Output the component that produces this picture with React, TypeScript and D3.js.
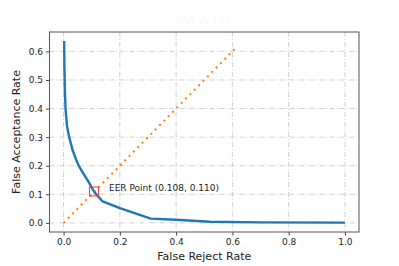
import { useEffect, useRef } from 'react';
import * as d3 from 'd3';

// DET curve samples (false reject rate vs false acceptance rate)
const frr = [0.002, 0.003, 0.005, 0.007, 0.012, 0.02, 0.032, 0.045, 0.056, 0.075, 0.091, 0.108, 0.125, 0.139, 0.2, 0.31, 0.4, 0.52, 0.7, 1.0];
const far = [0.636, 0.55, 0.45, 0.4, 0.34, 0.3, 0.255, 0.22, 0.196, 0.165, 0.14, 0.11, 0.09, 0.075, 0.052, 0.015, 0.011, 0.004, 0.002, 0.001];

// diagonal y = x reference
const diagX = [0, 0.61];
const diagY = [0, 0.61];

const eer = [0.108, 0.110];
const xTicks = [0, 0.2, 0.4, 0.6, 0.8, 1.0];
const yTicks = [0, 0.1, 0.2, 0.3, 0.4, 0.5, 0.6];
const title = 'FAR vs FRR';

const App = () => {
  const svgRef = useRef<SVGSVGElement>(null);

  useEffect(() => {
    const W = 399, H = 266;
    const margin = { top: 32, right: 40, bottom: 34, left: 49.5 };
    const width = W - margin.left - margin.right;
    const height = H - margin.top - margin.bottom;

    const root = d3.select(svgRef.current);
    root.selectAll('*').remove();
    root.attr('width', W).attr('height', H);
    root.append('rect').attr('width', W).attr('height', H).attr('fill', '#fff');

    const svg = root.append('g')
      .attr('transform', 'translate(' + margin.left + ',' + margin.top + ')');

    const x = d3.scaleLinear().domain([-0.05, 1.05]).range([0, width]);
    const y = d3.scaleLinear().domain([-0.0318, 0.6678]).range([height, 0]);

    // grid
    const grid = svg.append('g').attr('stroke', '#c4c4c4').attr('stroke-width', 0.8)
      .attr('stroke-dasharray', '5,2,1,2');
    xTicks.forEach(t => {
      grid.append('line').attr('x1', x(t)).attr('x2', x(t)).attr('y1', 0).attr('y2', height);
    });
    yTicks.forEach(t => {
      grid.append('line').attr('y1', y(t)).attr('y2', y(t)).attr('x1', 0).attr('x2', width);
    });

    const font = 'DejaVu Sans, sans-serif';

    const xAxis = svg.append('g')
      .attr('transform', 'translate(0,' + height + ')')
      .call(d3.axisBottom(x).tickValues(xTicks).tickFormat(d3.format('.1f')).tickSize(3.5).tickPadding(3));
    const yAxis = svg.append('g')
      .call(d3.axisLeft(y).tickValues(yTicks).tickFormat(d3.format('.1f')).tickSize(3.5).tickPadding(3));
    [xAxis, yAxis].forEach(a => {
      a.select('.domain').remove();
      a.selectAll('line').attr('stroke', '#444');
      a.selectAll('text').attr('font-family', font).attr('font-size', 9).attr('fill', '#222');
    });

    // diagonal
    svg.append('path')
      .datum(diagX.map((d, i) => [d, diagY[i]]))
      .attr('fill', 'none')
      .attr('stroke', '#ff7f0e')
      .attr('stroke-width', 2)
      .attr('stroke-dasharray', '2,4.2')
      .attr('d', d3.line().x(d => x(d[0])).y(d => y(d[1])));

    // curve
    svg.append('path')
      .datum(frr.map((d, i) => [d, far[i]]))
      .attr('fill', 'none')
      .attr('stroke', '#1f77b4')
      .attr('stroke-width', 2.4)
      .attr('stroke-linejoin', 'round')
      .attr('d', d3.line().x(d => x(d[0])).y(d => y(d[1])));

    // EER marker
    svg.append('rect')
      .attr('x', x(eer[0]) - 4.5).attr('y', y(eer[1]) - 4.5)
      .attr('width', 9).attr('height', 9)
      .attr('fill', 'none').attr('stroke', '#e8403a').attr('stroke-width', 1);
    svg.append('text')
      .attr('x', x(eer[0]) + 15).attr('y', y(eer[1]) - 0.5)
      .attr('font-family', font).attr('font-size', 9).attr('fill', '#222')
      .text('EER Point (' + eer[0].toFixed(3) + ', ' + eer[1].toFixed(3) + ')');

    // frame
    svg.append('rect').attr('width', width).attr('height', height)
      .attr('fill', 'none').attr('stroke', '#555').attr('stroke-width', 1);

    // labels
    svg.append('text')
      .attr('x', width / 2).attr('y', height + 28)
      .attr('text-anchor', 'middle')
      .attr('font-family', font).attr('font-size', 11).attr('fill', '#222')
      .text('False Reject Rate');
    svg.append('text')
      .attr('transform', 'translate(' + (-30) + ',' + height / 2 + ') rotate(-90)')
      .attr('text-anchor', 'middle')
      .attr('font-family', font).attr('font-size', 11).attr('fill', '#222')
      .text('False Acceptance Rate');
    svg.append('text')
      .attr('x', width / 2).attr('y', -8)
      .attr('text-anchor', 'middle')
      .attr('font-family', font).attr('font-size', 10).attr('fill', '#f7f7f7')
      .text(title);
  }, []);

  return <svg ref={svgRef} style={{ position: 'absolute', left: 0, top: 0 }}></svg>;
};

export default App;
